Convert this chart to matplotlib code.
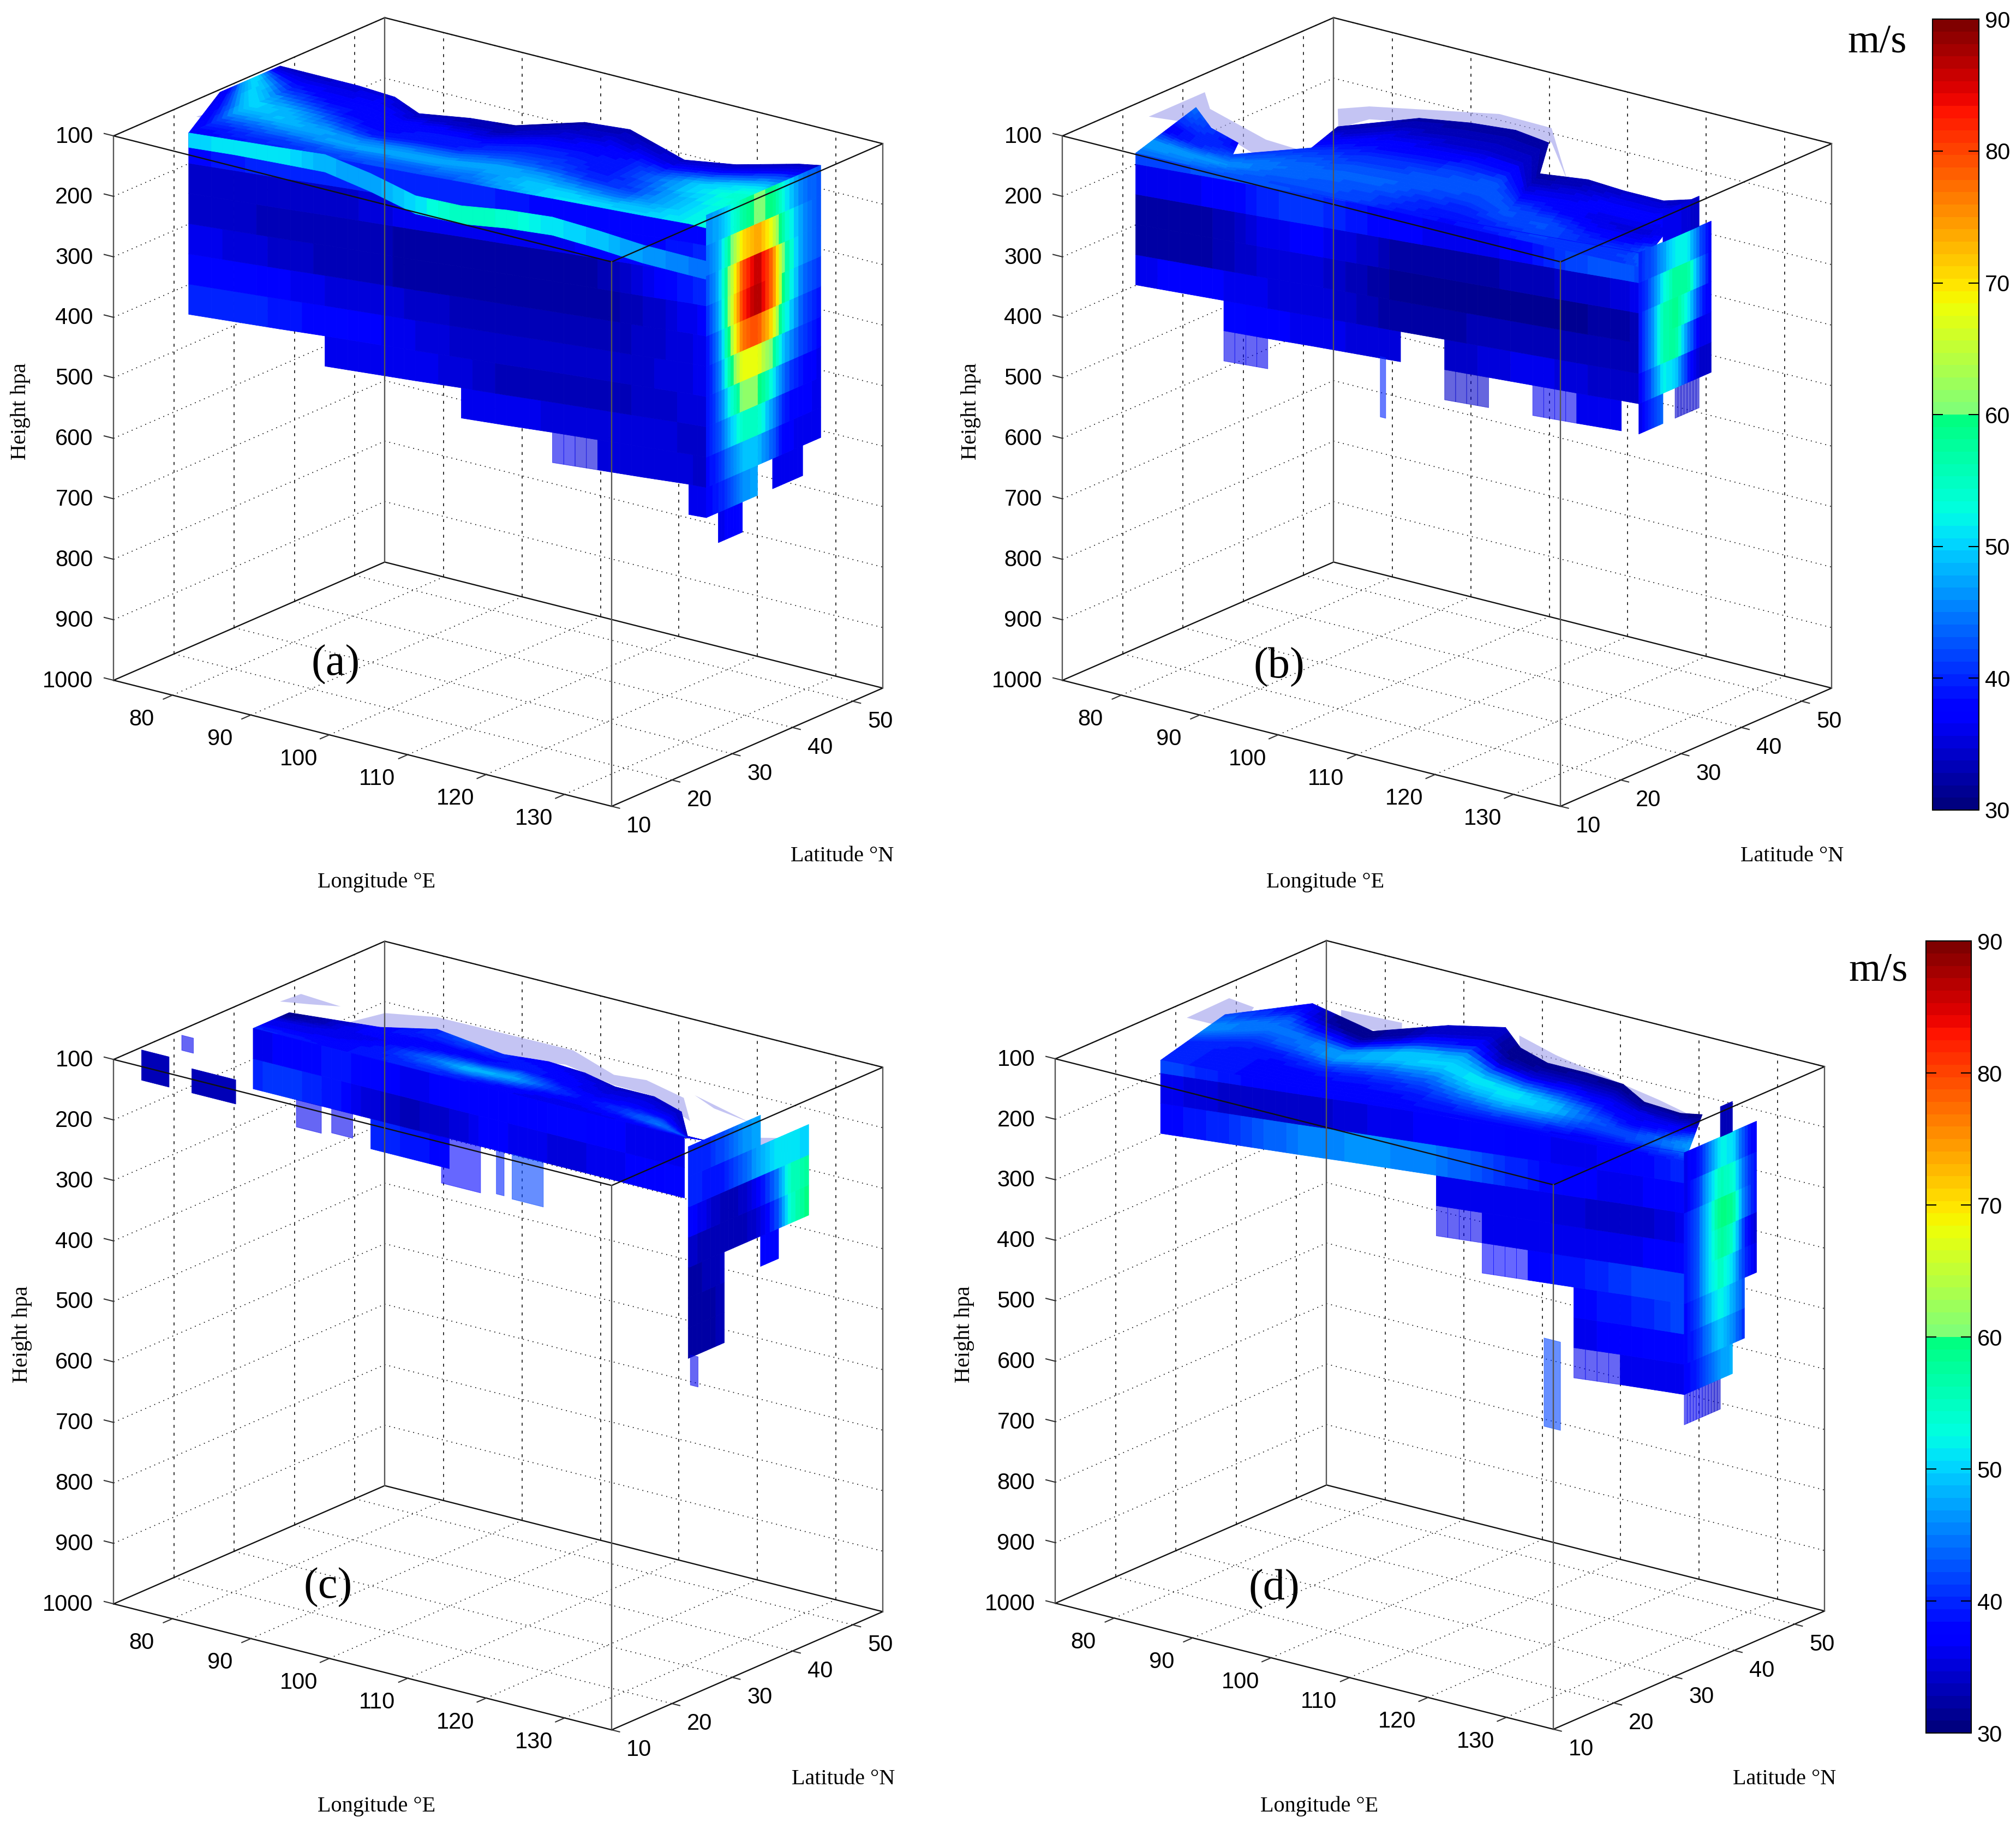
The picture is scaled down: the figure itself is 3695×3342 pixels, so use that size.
import numpy as np
import matplotlib
matplotlib.use('Agg')
import matplotlib.pyplot as plt
from matplotlib.cm import ScalarMappable
from matplotlib.colors import ListedColormap, Normalize
from mpl_toolkits.mplot3d import proj3d
from mpl_toolkits.mplot3d.art3d import Poly3DCollection

# axes ticks
lon_ticks = [80, 90, 100, 110, 120, 130]
lat_ticks = [10, 20, 30, 40, 50]
p_ticks = [100, 200, 300, 400, 500, 600, 700, 800, 900, 1000]
cbar_ticks = [30, 40, 50, 60, 70, 80, 90]

# shared cell edges of the jet sections
lon_edges = [73, 78, 83, 88, 93, 98, 103, 108, 113, 118, 123, 128, 133, 135]
p_edges = [100, 150, 200, 250, 300, 350, 400, 450, 500, 550, 600, 650, 700, 750, 800]

# wind speed m/s, 0 = below 30, negative = only a thin part of the cell is above 30
# (a)
a_south = [27, 15.3, 16.3, 17.3, 18.4, 19.4, 20.4, 21.5, 22.5, 23.6, 24.6, 25.6, 26.7, 27]
a_north = [37, 37, 37, 36.5, 34, 36, 37, 42, 43, 41, 39, 41, 45, 46]
a_top = [100, 100, 100, 102, 104, 106, 108, 110, 112, 114, 116, 118, 120, 122]
a_wall = [
    [0, 38, 40, 40, 40, 40, 40, 40, 38, 38, 38, 38, 38],
    [0, 34, 34, 34, 34, 36, 36, 36, 36, 36, 38, 38, 40],
    [0, 34, 34, 33, 33, 33, 32, 32, 32, 32, 33, 38, 40],
    [0, 36, 35, 34, 33, 33, 32, 32, 32, 32, 32, 35, 37],
    [0, 38, 38, 36, 35, 35, 34, 33, 33, 33, 33, 35, 36],
    [0, 40, 40, 38, 38, 36, 35, 34, 34, 34, 34, 35, 36],
    [0, 0, 0, 0, 36, 36, 36, 34, 33, 33, 33, 35, 35],
    [0, 0, 0, 0, 0, 0, 0, 36, 36, 35, 35, 35, 34],
    [0, 0, 0, 0, 0, 0, 0, 0, 0, -36, 34, 36, 34],
    [0, 0, 0, 0, 0, 0, 0, 0, 0, 0, 0, 0, 36],
]
a_face = [
    [36, 38, 40, 40, 42, 42, 42, 44, 50, 52, 50, 50, 54],
    [38, 42, 42, 44, 46, 46, 46, 50, 52, 46, 46, 50, 54],
    [44, 46, 50, 50, 50, 50, 50, 46, 42, 40, 42, 52, 54],
    [50, 52, 48, 42, 40, 38, 38, 40, 40, 38, 44, 54, 56],
    [50, 50, 42, 36, 38, 40, 42, 42, 38, 38, 48, 54, 52],
    [50, 40, 36, 38, 40, 38, 36, 36, 38, 42, 46, 50, 46],
    [40, 36, 38, 40, 36, 34, 34, 36, 36, 38, 38, 40, 40],
    [34, 34, 36, 34, 33, 33, 32, 33, 33, 34, 34, 34, 34],
]
# thin bright core along the southern side of (a)
a_streak_p = [100, 100, 100, 102, 105, 125, 150, 155, 150, 150, 160, 172, 180, 182]
a_streak_v = [0, 50, 52, 50, 46, 48, 54, 56, 52, 50, 48, 46, 44]
a_cap_lat = [27, 29, 31, 33, 35.5, 38, 40, 43, 46]
a_cap = [
    [46, 50, 54, 60, 62, 56, 48, 42],
    [44, 52, 66, 74, 74, 60, 50, 42],
    [42, 54, 72, 86, 88, 66, 50, 42],
    [40, 54, 74, 88, 88, 66, 48, 40],
    [38, 52, 72, 82, 78, 60, 46, 38],
    [38, 50, 66, 70, 66, 52, 44, 38],
    [38, 48, 58, 64, 58, 46, 40, 36],
    [38, 46, 52, 58, 52, 40, 38, 36],
    [38, 42, 48, 50, 48, 38, 36, 36],
    [38, 40, 44, 48, 0, 36, 36, 0],
    [0, 36, 38, 0, 0, 0, 0, 0],
]
a_haze = [(100, [75.6, 76.1, 78], [19.7, 22, 19.5])]
a_extra = []

# (b)
b_south = [15, 15, 15.8, 16.6, 17.4, 18.3, 19.1, 19.9, 20.7, 21.5, 22.3, 23.1, 24, 24.3]
b_north = [15, 25, 21, 19, 29, 36, 38, 39, 38, 30, 31.5, 31, 31, 33]
b_top = [132, 132, 136, 140, 143, 147, 151, 154, 158, 162, 165, 169, 173, 174]
b_wall = [
    [0, 42, 42, 44, 42, 40, 40, 38, 38, 38, 38, 38, 38],
    [0, 36, 36, 38, 42, 40, 38, 36, 36, 36, 40, 44, 42],
    [0, 32, 32, 34, 38, 36, 33, 32, 32, 33, 34, 34, 36],
    [0, 32, 32, 34, 36, 34, 32, 31, 31, 31, 31, 32, 33],
    [0, 36, 38, 35, 36, 35, 32, 32, 33, 33, 33, 33, 33],
    [0, 0, 0, 38, 36, 36, 35, 0, 34, 36, 36, 34, 34],
    [0, 0, 0, -36, 0, 0, 0, 0, -34, 0, -36, 36, 0],
]
b_face = [
    [0, 44, 44, 42, 42, 42, 40, 38, 38, 40, 42, 40, 42],
    [0, 48, 46, 44, 44, 44, 42, 40, 40, 42, 42, 38, 46],
    [0, 46, 48, 46, 42, 44, 44, 42, 42, 44, 42, 36, 40],
    [0, 38, 44, 44, 42, 40, 42, 44, 44, 40, 38, 34, 36],
    [0, 36, 42, 42, 40, 38, 40, 40, 42, 38, 36, 34, 36],
    [0, 40, 40, 0, 38, 36, 36, 36, 36, 36, 38, 38, 38],
    [0, 42, 38, 0, 36, 34, 34, 34, 34, 34, 36, 38, 36],
    [0, 44, 38, 0, 33, 32, 32, 32, 32, 32, 34, 34, 34],
]
b_cap_lat = [24.3, 26.3, 28.3, 30.3, 32.3, 34.3, 36.3]
b_cap = [
    [0, 0, 36, 36, 34, 0],
    [40, 44, 50, 54, 50, 36],
    [38, 48, 56, 60, 56, 36],
    [38, 52, 60, 58, 46, 36],
    [38, 52, 60, 56, 36, 36],
    [36, 50, 54, 46, 34, 34],
    [36, 44, 0, -34, -34, 0],
]
b_haze = [
    (100, [75.9, 75.9, 79.4, 89.6, 97.2, 97.4, 93.7, 82.4],
     [19.9, 29.2, 25.5, 21.5, 20.8, 17.1, 16.2, 21.4]),
    (100, [89.7, 91.8, 103.7, 110.5, 121.6, 113.2, 106.3, 94.2, 93.3],
     [33.3, 35.8, 41.9, 41.7, 29.9, 38.2, 38.5, 32.7, 28.7]),
]
b_extra = [(105.3, 106, 20, 400, 500, -40)]

# (c)
c_south = [26] * 13 + [26.5]
c_north = [26, 32, 33, 34, 37, 36, 35, 36, 35.5, 34, 34, 32, 26.5, 26.5]
c_top = [100] * 14
c_wall = [
    [0, 36, 38, 40, 36, 36, 38, 36, 38, 38, 36, 36, 0],
    [0, 40, 42, 36, 34, 33, 36, 38, 34, 36, 36, 38, 0],
    [0, 0, 0, 0, 40, 38, 0, 0, 0, 0, 0, 0, 0],
]
c_face = [
    [0, 40, 38, 38, 40, 40, 38, 36, 36, 36, 36, 38, 38],
    [0, 38, 38, 38, 40, 42, 42, 38, 36, 36, 42, 44, 38],
    [0, 36, 36, 38, 42, 48, 50, 44, 38, 38, 44, 48, 38],
    [0, 36, 36, 36, 40, 46, 52, 46, 38, 38, 42, 42, 36],
    [0, 36, 36, 36, 36, 40, 42, 40, 36, 36, 38, 38, 36],
    [0, 33, 36, 38, 38, 36, 38, 38, 35, 36, 36, 36, 36],
    [0, 31, 36, 40, 40, 38, 40, 40, 35, 36, 36, 34, 34],
    [0, 31, 36, 38, 42, 44, 36, 36, 34, 34, 34, 34, 34],
]
c_cap_lat = [24, 27, 30, 33, 36, 39, 41, 44]
c_cap = [
    [40, 40, 44, 48, 0, 0, 0],
    [40, 38, 40, 46, 50, 52, 50],
    [38, 33, 33, 35, 40, 52, 58],
    [34, 33, 33, 33, 38, 48, 60],
    [32, 34, 0, 0, 38, 0, 0],
    [32, 33, 0, 0, 0, 0, 0],
    [32, 33, 0, 0, 0, 0, 0],
]
c_haze = [
    (100, [84.3, 85.8, 90.7, 107.9, 115.7, 119.3, 125.6, 130.4, 122.6, 117.6, 109.9, 104.5, 93.4, 88.7],
     [32.2, 37.7, 39.9, 40.2, 36.8, 37.5, 35.5, 30.3, 34.1, 34.3, 36.3, 34.2, 36.5, 33.9]),
    (100, [75.2, 75.5, 81, 78], [34.1, 37.2, 36.6, 35.2]),
    (200, [125, 130.6, 133.6, 132.5, 126.4], [43, 47, 45.5, 43, 39]),
    (100, [126, 135.5, 130], [36.8, 33.6, 34.8]),
]
c_extra = [
    (73, 76.5, 14, 100, 150, 33),
    (79.4, 85, 14, 110, 150, 33),
    (73.5, 75, 20, 100, 125, -36),
    (134.5, 135.5, 25, 450, 500, -36),
    (83.5, 86.7, 26, 200, 245, -36),
    (88, 90.7, 26, 200, 240, -36),
    (102, 107, 26, 200, 277, -38),
    (109, 110, 26, 200, 272, -40),
    (111, 115, 26, 200, 274, -42),
]

# (d)
d_south = [20.3, 20.3, 21.4, 22.5, 23.6, 24.8, 25.9, 27, 28.1, 29.2, 30.3, 31.5, 32.6, 33]
d_north = [20.3, 31, 39, 37.5, 36, 42, 45, 41, 39, 39, 38.5, 35.5, 35, 36]
d_top = [129, 129, 132, 135, 139, 142, 145, 149, 152, 155, 159, 162, 165, 167]
d_wall = [
    [0, 42, 38, 38, 38, 38, 38, 38, 38, 36, 36, 38, 40],
    [0, 36, 34, 34, 34, 36, 36, 38, 38, 36, 36, 38, 40],
    [0, 38, 40, 44, 46, 46, 46, 44, 40, 38, 36, 36, 38],
    [0, 0, 0, 0, 0, 0, 0, 36, 36, 36, 34, 34, 36],
    [0, 0, 0, 0, 0, 0, 0, -36, 36, 36, 36, 36, 38],
    [0, 0, 0, 0, 0, 0, 0, 0, -38, 38, 40, 42, 42],
    [0, 0, 0, 0, 0, 0, 0, 0, 0, 0, 38, 40, 42],
    [0, 0, 0, 0, 0, 0, 0, 0, 0, 0, 36, 38, 38],
    [0, 0, 0, 0, 0, 0, 0, 0, 0, 0, -36, 36, 36],
]
d_face = [
    [0, 40, 38, 38, 38, 38, 38, 38, 38, 38, 36, 38, 40],
    [0, 40, 38, 38, 38, 38, 40, 42, 44, 40, 40, 42, 44],
    [0, 40, 38, 38, 40, 42, 44, 46, 50, 46, 40, 44, 48],
    [0, 40, 40, 42, 46, 46, 50, 52, 54, 48, 38, 42, 46],
    [0, 44, 44, 48, 52, 54, 52, 54, 46, 42, 36, 36, 42],
    [0, 46, 46, 42, 44, 46, 40, 36, 40, 36, 38, 36, 36],
    [0, 46, 36, 31, 31, 38, 31, 31, 36, 34, 33, 38, 33],
    [0, 42, 31, 31, 31, 38, 31, 31, 31, 31, 31, 31, 31],
]
d_cap_lat = [33, 35, 37, 39, 41, 43, 45]
d_cap = [
    [0, 0, 0, 33, 0, 0],
    [36, 40, 48, 56, 46, 36],
    [36, 44, 52, 60, 48, 38],
    [38, 46, 54, 66, 50, 38],
    [38, 46, 54, 62, 46, 34],
    [38, 46, 54, 56, 44, 36],
    [38, 44, 52, 54, 42, 0],
    [38, 42, 48, 52, 40, 0],
    [38, 40, 46, 48, 0, 0],
    [-36, -36, -34, 0, 0, 0],
]
d_haze = [
    (100, [75.5, 75.3, 79, 82], [27.9, 35.2, 34.5, 28]),
    (100, [86.5, 93.8, 95.7, 89.5], [39.2, 39.8, 37.3, 35.2]),
    (100, [105.6, 112.2, 118.3, 128.8, 133.7, 132.4, 125, 114.3, 107.8],
     [43.9, 41.4, 39.7, 36.9, 35.3, 32.2, 37.4, 38.6, 41.1]),
]
d_extra = [(119.4, 121.5, 30, 494, 640, -42)]

W, H = 3695, 3342
SHRINK = 3695 / 1568
LON = (72.5, 136)
LAT = (10, 55)
P = (1000, 100)
BOX = (487, 348, 449)

# same idea as matlab jet but no red below 60
base = plt.get_cmap('jet', 64)(np.arange(64))
base[:32, 0] = 0
speed_cmap = ListedColormap(base, name='jet60')
speed_norm = Normalize(30, 90)

plt.rcParams['font.family'] = ['Liberation Sans', 'DejaVu Sans']
SERIF = ['Liberation Serif', 'DejaVu Serif']

fig = plt.figure(figsize=(W / 100, H / 100), dpi=100, facecolor='white')


def cell_colour(v, thin=False):
    r, g, b, _ = speed_cmap(speed_norm(v))
    return (r, g, b, 0.6 if thin else 1.0)


def row_edges(row, j):
    # colour at the left and right side of a cell, for smooth shading along the row
    v = abs(row[j])
    left = abs(row[j - 1]) if j > 0 and row[j - 1] != 0 else v
    right = abs(row[j + 1]) if j + 1 < len(row) and row[j + 1] != 0 else v
    return (v + left) / 2, (v + right) / 2


def face_nodes(m):
    # colour at the cell corners, for smooth shading of the upper face
    m = np.abs(np.array(m, dtype=float))
    ny, nx = m.shape
    nodes = np.zeros((ny + 1, nx + 1))
    for i in range(ny + 1):
        for j in range(nx + 1):
            near = m[max(i - 1, 0):i + 1, max(j - 1, 0):j + 1]
            near = near[near > 0]
            nodes[i, j] = near.mean() if near.size else 0
    return nodes


def shade_quad(polys, colours, quad, vals, nx, ny, thin=False):
    # quad and vals run lower left, lower right, upper right, upper left
    q = np.array(quad, dtype=float)
    for a in range(nx):
        for b in range(ny):
            pts = []
            for s, t in [(a / nx, b / ny), ((a + 1) / nx, b / ny),
                         ((a + 1) / nx, (b + 1) / ny), (a / nx, (b + 1) / ny)]:
                pts.append(tuple((1 - s) * (1 - t) * q[0] + s * (1 - t) * q[1] + s * t * q[2] + (1 - s) * t * q[3]))
            s, t = (a + 0.5) / nx, (b + 0.5) / ny
            v = (1 - s) * (1 - t) * vals[0] + s * (1 - t) * vals[1] + s * t * vals[2] + (1 - s) * t * vals[3]
            polys.append(pts)
            colours.append(cell_colour(v, thin))


def add_cells(ax, polys, colours, z):
    if polys:
        pc = Poly3DCollection(polys, facecolors=colours, edgecolors=colours, linewidths=0.6)
        pc.set_zorder(z)
        ax.add_collection3d(pc, autolim=False)


def text_at(ax, x, y, p, s, **kw):
    # plain 2d text at the projected spot
    px, py, _ = proj3d.proj_transform(x, y, p, ax.get_proj())
    ax.text2D(px, py, s, transform=ax.transData, va='center', fontsize=30, **kw)


def draw_frame(ax):
    x0, x1 = LON
    y0, y1 = LAT
    pb, pt = P
    dots = dict(color='#222222', lw=1.3, ls=(0, (1, 4)), zorder=1)
    dash = dict(color='#222222', lw=1.3, ls=(0, (3, 5)), zorder=1)
    for p in p_ticks[:-1]:
        ax.plot([x0, x0, x1], [y0, y1, y1], [p, p, p], **dots)
    for x in lon_ticks:
        ax.plot([x, x], [y0, y1], [pb, pb], **dots)
        ax.plot([x, x], [y1, y1], [pb, pt], **dash)
    for y in lat_ticks[1:]:
        ax.plot([x0, x1], [y, y], [pb, pb], **dots)
        ax.plot([x0, x0], [y, y], [pb, pt], **dash)
    edge = dict(color='#111111', lw=1.7, zorder=10)
    side = dict(color='#555555', lw=1.7, zorder=10)
    for p in P:
        ax.plot([x0, x1, x1, x0, x0], [y0, y0, y1, y1, y0], [p] * 5, **edge)
    for x, y in [(x0, y0), (x1, y0), (x1, y1), (x0, y1)]:
        ax.plot([x, x], [y, y], [pb, pt], **side)
    tick = dict(color='#333333', lw=1.5, zorder=10)
    for p in p_ticks:
        ax.plot([x0, x0 - 1.2], [y0, y0], [p, p], **tick)
        text_at(ax, x0 - 2.6, y0, p + 10, str(p), ha='right')
    for x in lon_ticks:
        ax.plot([x, x], [y0, y0 - 1.5], [pb, pb], **tick)
        text_at(ax, x, y0 - 5.1, pb + 18, str(x), ha='center')
    for y in lat_ticks:
        ax.plot([x1, x1 + 1], [y, y], [pb, pb], **tick)
        text_at(ax, x1 + 3.5, y, pb + 22, str(y), ha='center')


def draw_jet(ax, south, north, top, wall, face, cap_lat, cap, haze, extra, streak=None):
    for p, xs, ys in haze:
        verts = [list(zip(xs, ys, [p] * len(xs)))]
        pc = Poly3DCollection(verts, facecolors=[(0.62, 0.62, 0.92, 0.6)], edgecolors='none')
        pc.set_zorder(3)
        ax.add_collection3d(pc, autolim=False)

    polys, colours = [], []
    nrow = len(face)
    nodes = face_nodes(face)
    for i, row in enumerate(face):
        f0, f1 = i / nrow, (i + 1) / nrow
        for j, v in enumerate(row):
            if v == 0:
                continue
            x0, x1 = lon_edges[j], lon_edges[j + 1]
            la = [south[j] + f * (north[j] - south[j]) for f in (f0, f1)]
            lb = [south[j + 1] + f * (north[j + 1] - south[j + 1]) for f in (f0, f1)]
            pa = [top[j] + f * (100 - top[j]) for f in (f0, f1)]
            pb = [top[j + 1] + f * (100 - top[j + 1]) for f in (f0, f1)]
            quad = [(x0, la[0], pa[0]), (x1, lb[0], pb[0]), (x1, lb[1], pb[1]), (x0, la[1], pa[1])]
            vals = [nodes[i, j], nodes[i, j + 1], nodes[i + 1, j + 1], nodes[i + 1, j]]
            shade_quad(polys, colours, quad, vals, 5, 3)
    add_cells(ax, polys, colours, 4)

    polys, colours = [], []
    for i, row in enumerate(wall):
        for j, v in enumerate(row):
            if v == 0:
                continue
            p0, p1 = p_edges[i], p_edges[i + 1]
            t0 = min(max(p0, top[j]), p1)
            t1 = min(max(p0, top[j + 1]), p1)
            quad = [(lon_edges[j], south[j], p1), (lon_edges[j + 1], south[j + 1], p1),
                    (lon_edges[j + 1], south[j + 1], t1), (lon_edges[j], south[j], t0)]
            left, right = row_edges(row, j)
            shade_quad(polys, colours, quad, [left, right, right, left], 4, 1, v < 0)
    add_cells(ax, polys, colours, 5)

    if streak is not None:
        polys, colours = [], []
        sp, sv = streak
        for j, v in enumerate(sv):
            if v == 0:
                continue
            quad = [(lon_edges[j], south[j], sp[j] + 24), (lon_edges[j + 1], south[j + 1], sp[j + 1] + 24),
                    (lon_edges[j + 1], south[j + 1], max(sp[j + 1] - 6, 100)), (lon_edges[j], south[j], max(sp[j] - 6, 100))]
            left, right = row_edges(sv, j)
            shade_quad(polys, colours, quad, [left, right, right, left], 4, 1)
        add_cells(ax, polys, colours, 5.5)

    polys, colours = [], []
    for i, row in enumerate(cap):
        for j, v in enumerate(row):
            if v == 0:
                continue
            p0, p1 = p_edges[i], p_edges[i + 1]
            quad = [(135, cap_lat[j], p1), (135, cap_lat[j + 1], p1),
                    (135, cap_lat[j + 1], p0), (135, cap_lat[j], p0)]
            left, right = row_edges(row, j)
            shade_quad(polys, colours, quad, [left, right, right, left], 4, 1, v < 0)
    add_cells(ax, polys, colours, 6)

    polys, colours = [], []
    for x0, x1, y, p0, p1, v in extra:
        polys.append([(x0, y, p0), (x1, y, p0), (x1, y, p1), (x0, y, p1)])
        colours.append(cell_colour(abs(v), v < 0))
    add_cells(ax, polys, colours, 6)


def panel(cx, cy, *jet, **opts):
    # ortho 3d axes: 2d view limits are -0.095..0.09, world units come from the box aspect
    side = 1.85 * np.linalg.norm(BOX) / (1.8294640721620434 * 25 / 24) * SHRINK
    left = cx * SHRINK - 0.95 / 1.85 * side
    bottom = H - cy * SHRINK - 0.95 / 1.85 * side
    ax = fig.add_axes([left / W, bottom / H, side / W, side / H], projection='3d', computed_zorder=False)
    ax.set_proj_type('ortho')
    ax.set_box_aspect(BOX)
    ax.view_init(elev=19.4, azim=-52.7)
    ax.set_xlim(*LON, view_margin=0)
    ax.set_ylim(*LAT, view_margin=0)
    ax.set_zlim(*P, view_margin=0)
    ax.set_axis_off()
    draw_frame(ax)
    draw_jet(ax, *jet, **opts)
    return ax


panel(387.5, 320.5, a_south, a_north, a_top, a_wall, a_face, a_cap_lat, a_cap, a_haze, a_extra,
      streak=(a_streak_p, a_streak_v))
panel(1125.5, 320.5, b_south, b_north, b_top, b_wall, b_face, b_cap_lat, b_cap, b_haze, b_extra)
panel(387.5, 1039, c_south, c_north, c_top, c_wall, c_face, c_cap_lat, c_cap, c_haze, c_extra)
panel(1120, 1038.5, d_south, d_north, d_top, d_wall, d_face, d_cap_lat, d_cap, d_haze, d_extra)


def label(x, y, s, size, **kw):
    fig.text(x / 1568, 1 - y / 1418, s, ha='center', va='center', fontsize=size, family=SERIF, **kw)


for x, y, s in [(293, 686, 'Longitude °E'), (655, 666, 'Latitude °N'),
                (1031, 686, 'Longitude °E'), (1394, 666, 'Latitude °N'),
                (293, 1405, 'Longitude °E'), (656, 1384, 'Latitude °N'),
                (1026, 1405, 'Longitude °E'), (1388, 1384, 'Latitude °N')]:
    label(x, y, s, 29)
for x, y in [(16, 320), (755, 320), (17, 1038), (750, 1038)]:
    label(x, y, 'Height hpa', 29, rotation=90)
for x, y, s in [(261, 517, '(a)'), (995, 519, '(b)'), (255, 1235, '(c)'), (991, 1236, '(d)')]:
    label(x, y, s, 58)
label(1460, 33, 'm/s', 54)
label(1461, 755, 'm/s', 54)


def speed_bar(x0, x1, y0, y1):
    cax = fig.add_axes([x0 / 1568, 1 - y1 / 1418, (x1 - x0) / 1568, (y1 - y0) / 1418])
    cb = fig.colorbar(ScalarMappable(speed_norm, speed_cmap), cax=cax, ticks=cbar_ticks)
    cb.outline.set_linewidth(1.5)
    cax.tick_params(axis='y', direction='in', left=True, right=True, length=14, width=1.5,
                    labelsize=30, pad=8)


speed_bar(1503, 1539, 15, 630)
speed_bar(1498, 1533, 732, 1348)

fig.savefig('out.png', dpi=100)
